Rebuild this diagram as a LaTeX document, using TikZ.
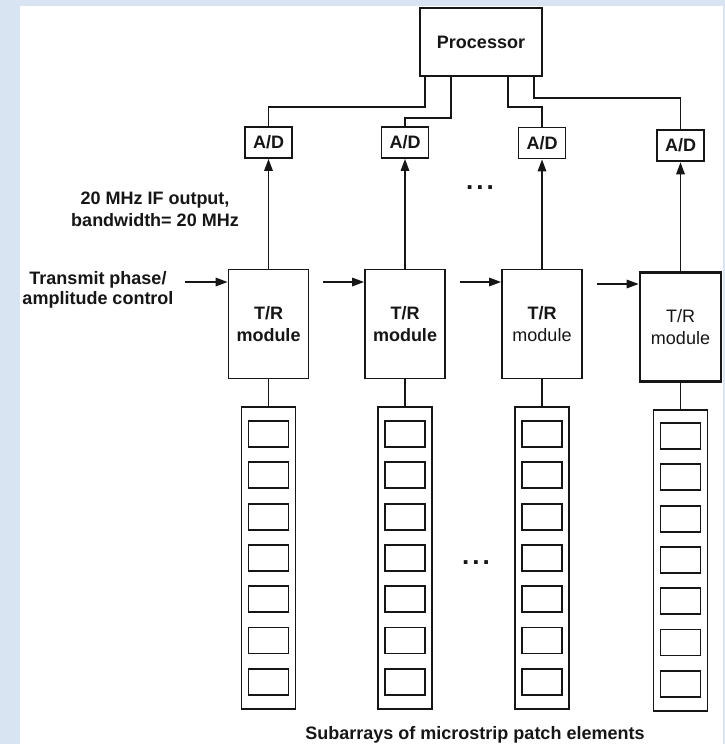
\documentclass[tikz,border=0pt]{standalone}
\usepackage{fontspec}
\setmainfont{Liberation Sans}
\usetikzlibrary{arrows.meta}
\definecolor{bgblue}{RGB}{216,228,241}
\definecolor{ink}{RGB}{22,22,22}

\begin{document}
\begin{tikzpicture}[x=1pt,y=-1pt,
  txt/.style={font=\fontsize{18}{22}\selectfont\bfseries, text=ink},
  box/.style={draw=ink, line width=1.8pt, inner sep=0pt, txt, align=center},
  adbox/.style={box, minimum width=47pt, minimum height=31pt},
  trbox/.style={box, minimum width=80pt, minimum height=109pt},
  subbox/.style={draw=ink, line width=1.8pt, minimum width=54pt, minimum height=302pt, inner sep=0pt},
  patch/.style={draw=ink, line width=1.8pt, minimum width=40pt, minimum height=26pt, inner sep=0pt},
  wire/.style={draw=ink, line width=1.6pt},
  sig/.style={draw=ink, line width=1.6pt, -{Triangle[length=12pt,width=8.5pt]}},
  heavy/.style={line width=2.6pt},
  ellip/.style={font=\fontsize{26}{26}\selectfont\bfseries, text=ink, anchor=base, inner sep=0pt},
]
% page and the pale blue frame
\useasboundingbox (0,0) rectangle (725,744);
\fill[white] (0,0) rectangle (725,744);
\fill[bgblue] (0,0) rectangle (20,744);
\fill[bgblue] (0,0) rectangle (725,6);
\fill[bgblue] (723,0) rectangle (725,744);

% processor
\node[box, minimum width=122pt, minimum height=68pt] (proc) at (481,42) {Processor};

% A/D converters
\node[adbox] (ad1) at (268.5,142.5) {A/D};
\node[adbox] (ad2) at (405,142.5) {A/D};
\node[adbox] (ad3) at (542,143) {A/D};
\node[adbox, heavy] (ad4) at (680.5,145.5) {A/D};

% T/R modules
\node[trbox] (tr1) at (268.5,324) {T/R\\module};
\node[trbox] (tr2) at (405,324) {T/R\\module};
\node[trbox] (tr3) at (542,324) {T/R\\{\mdseries module}};
\node[trbox, heavy, font=\fontsize{18}{22}\selectfont, minimum width=81pt] (tr4) at (680.5,327) {T/R\\module};

% subarrays of patches
\node[subbox] (sub1) at (268.5,558) {};
\node[subbox] (sub2) at (405,558) {};
\node[subbox] (sub3) at (542,558) {};
\node[subbox, minimum height=301pt] (sub4) at (680.5,560.5) {};
\foreach \k in {0,...,6} {
  \node[patch] (pa\k) at (268.5,434+41.3*\k) {};
  \node[patch] (pb\k) at (405,434+41.3*\k) {};
  \node[patch] (pc\k) at (542,434+41.3*\k) {};
  \node[patch] (pd\k) at (680.5,436+41.3*\k) {};
}

% processor bus to the converters
\coordinate (p1) at ([xshift=6pt]proc.south west);
\coordinate (p2) at ([xshift=32pt]proc.south west);
\coordinate (p3) at ([xshift=89pt]proc.south west);
\coordinate (p4) at ([xshift=115pt]proc.south west);
\draw[wire] (p1) -- ++(0,30) -| (ad1.north);
\draw[wire] (p2) -- ++(0,41) -| (ad2.north);
\draw[wire] (p3) -- ++(0,30) -| (ad3.north);
\draw[wire] (p4) -- ++(0,21) -| (ad4.north);

% IF outputs
\draw[sig] (tr1.north) -- (ad1.south);
\draw[sig] (tr2.north) -- (ad2.south);
\draw[sig] (tr3.north) -- (ad3.south);
\draw[sig] (tr4.north) -- (ad4.south);

% feeds to the subarrays
\draw[wire] (tr1.south) -- (sub1.north);
\draw[wire] (tr2.south) -- (sub2.north);
\draw[wire] (tr3.south) -- (sub3.north);
\draw[wire] (tr4.south) -- (sub4.north);

% transmit control chain
\coordinate (h0) at (185,282);
\coordinate (h1) at (323,282);
\coordinate (h2) at (460,282);
\coordinate (h3) at (597,284);
\draw[sig] (h0) -- (tr1.west |- h0);
\draw[sig] (h1) -- (tr2.west |- h1);
\draw[sig] (h2) -- (tr3.west |- h2);
\draw[sig] (h3) -- (tr4.west |- h3);

% labels
\node[txt, align=center] (iflbl) at (155,209) {20 MHz IF output,\\bandwidth= 20 MHz};
\node[txt, align=center, font=\fontsize{18}{20}\selectfont\bfseries] (ctrl) at (98,290) {Transmit phase/\\amplitude control};
\node[ellip] (dots1) at (480,189) {.\hspace{3pt}.\hspace{3pt}.};
\node[ellip] (dots2) at (476,564) {.\hspace{3pt}.\hspace{3pt}.};
\node[txt, anchor=base] (caption) at (475,739.5) {Subarrays of microstrip patch elements};
\end{tikzpicture}
\end{document}
